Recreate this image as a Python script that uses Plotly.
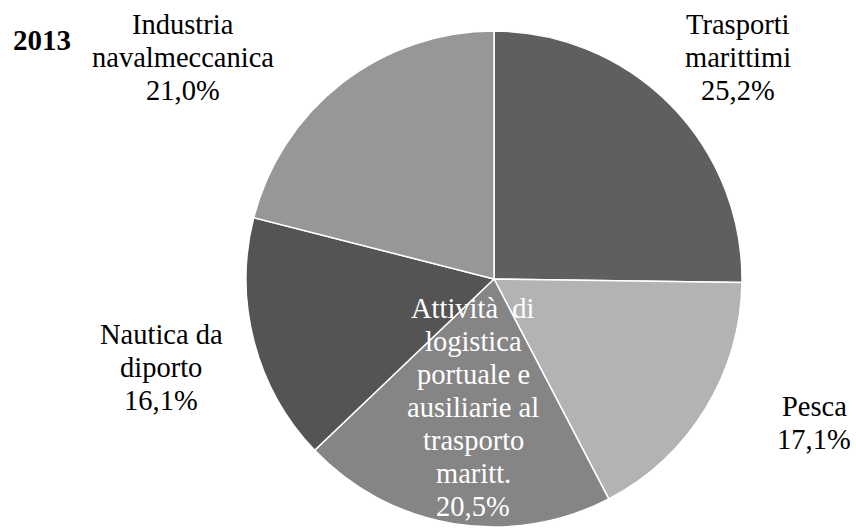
import plotly.graph_objects as go

W, H = 856, 530

categories = ["Trasporti marittimi", "Pesca",
              "Attività di logistica portuale e ausiliarie al trasporto maritt.",
              "Nautica da diporto", "Industria navalmeccanica"]
values = [25.2, 17.1, 20.5, 16.1, 21.0]
label_lines = [["Trasporti", "marittimi"], ["Pesca"],
               ["Attività  di", "logistica", "portuale e", "ausiliarie al", "trasporto", "maritt."],
               ["Nautica da", "diporto"], ["Industria", "navalmeccanica"]]
colors = ["#5f5f5f", "#b3b3b3", "#858585", "#545454", "#979797"]
year = "2013"

# label: centre x and centre y of the last (percentage) line, in pixels
label_pos = [(738, 91), (814, 439), (473, 506), (161, 400), (183, 91)]
label_col = ["black", "black", "white", "black", "black"]
LINE = 33
FS = 28.5

cx, cy, r = 494, 279, 248
fig = go.Figure(go.Pie(
    labels=categories, values=values, sort=False, direction="clockwise",
    rotation=0, marker=dict(colors=colors, line=dict(color="white", width=1.5)),
    textinfo="none", hoverinfo="label+percent", showlegend=False,
    domain=dict(x=[(cx - r) / W, (cx + r) / W], y=[(H - cy - r) / H, (H - cy + r) / H]),
))

def fmt(v):
    return f"{v:.1f}".replace(".", ",") + "%"

for lines, v, (px, py), col in zip(label_lines, values, label_pos, label_col):
    all_lines = lines + [fmt(v)]
    n = len(all_lines)
    for i, t in enumerate(all_lines):
        yy = py - (n - 1 - i) * LINE
        fig.add_annotation(x=px / W, y=1 - yy / H, xref="paper", yref="paper",
                           text=t, showarrow=False, xanchor="center", yanchor="middle",
                           font=dict(family="Liberation Serif, Times New Roman, serif", size=FS, color=col))

fig.add_annotation(x=42 / W, y=1 - 40 / H, xref="paper", yref="paper", text=f"<b>{year}</b>",
                   showarrow=False, xanchor="center", yanchor="middle",
                   font=dict(family="Liberation Serif, Times New Roman, serif", size=29, color="black"))

fig.update_layout(width=W, height=H, margin=dict(l=0, r=0, t=0, b=0),
                  paper_bgcolor="white", plot_bgcolor="white")
fig.write_html("out.html", config={"displayModeBar": False},
               post_script="document.body.style.margin='0';")
